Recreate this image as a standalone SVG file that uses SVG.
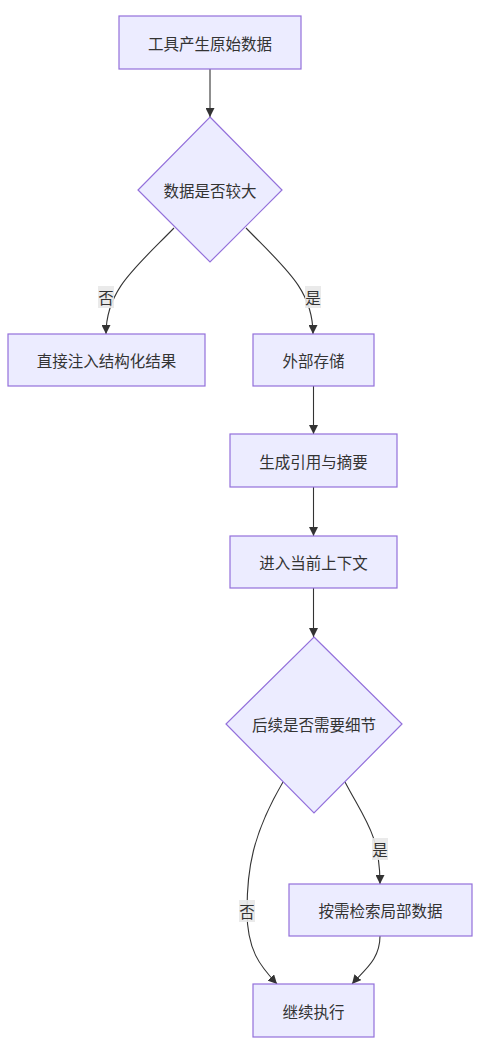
<svg xmlns="http://www.w3.org/2000/svg" width="479" height="1054" viewBox="0 0 479 1054">
<defs>
<style>
.node{fill:#ECECFF;stroke:#9370DB;stroke-width:1.2}
.t{font-family:"Noto Sans CJK SC","Liberation Sans",sans-serif;font-size:15.5px;fill:#333;text-anchor:middle;dominant-baseline:central}
.e{fill:none;stroke:#333;stroke-width:1.1}
.lb{fill:#e8e8e8;opacity:0.9}
</style>
<marker id="arr" viewBox="0 0 10 10" refX="10" refY="5" markerWidth="9" markerHeight="9" markerUnits="userSpaceOnUse" orient="auto">
<path d="M0,0 L10,5 L0,10 z" fill="#333"/>
</marker>
</defs>
<rect width="479" height="1054" fill="#fff"/>
<g id="edges">
<path class="e" d="M210,69 L210,117" marker-end="url(#arr)"/>
<path class="e" d="M174,228 C135,268 106,290 106,334" marker-end="url(#arr)"/>
<path class="e" d="M246,228 C285,268 313,290 313,334" marker-end="url(#arr)"/>
<path class="e" d="M313.5,386 L313.5,434" marker-end="url(#arr)"/>
<path class="e" d="M313.5,487 L313.5,536" marker-end="url(#arr)"/>
<path class="e" d="M313.5,588 L313.5,637" marker-end="url(#arr)"/>
<path class="e" d="M345,782 C365,820 380,835 380,884" marker-end="url(#arr)"/>
<path class="e" d="M283,782 C252,835 247,870 247,911 C247,950 260,966 277,984" marker-end="url(#arr)"/>
<path class="e" d="M380,936 C380,960 364,970 352,984" marker-end="url(#arr)"/>
</g>
<g id="labels">
<g id="l1"><rect class="lb" x="98" y="286" width="16" height="22"/><text class="t" x="106" y="297">否</text></g>
<g id="l2"><rect class="lb" x="305" y="286" width="16" height="22"/><text class="t" x="313" y="297">是</text></g>
<g id="l3"><rect class="lb" x="372" y="838" width="16" height="22"/><text class="t" x="380" y="849">是</text></g>
<g id="l4"><rect class="lb" x="239" y="900" width="16" height="22"/><text class="t" x="247" y="911">否</text></g>
</g>
<g id="n1"><rect class="node" x="119" y="16" width="182" height="53"/><text class="t" x="210" y="42.5">工具产生原始数据</text></g>
<g id="n2"><polygon class="node" points="210,117 282,190 210,262 138,190"/><text class="t" x="210" y="190">数据是否较大</text></g>
<g id="n3"><rect class="node" x="8" y="334" width="197" height="52"/><text class="t" x="106.5" y="360">直接注入结构化结果</text></g>
<g id="n4"><rect class="node" x="253" y="334" width="121" height="52"/><text class="t" x="313.5" y="360">外部存储</text></g>
<g id="n5"><rect class="node" x="230" y="434" width="167" height="53"/><text class="t" x="313.5" y="460.5">生成引用与摘要</text></g>
<g id="n6"><rect class="node" x="230" y="536" width="167" height="52"/><text class="t" x="313.5" y="562">进入当前上下文</text></g>
<g id="n7"><polygon class="node" points="314,637 402,724 314,813 226,724"/><text class="t" x="314" y="724">后续是否需要细节</text></g>
<g id="n8"><rect class="node" x="289" y="884" width="183" height="52"/><text class="t" x="380.5" y="910">按需检索局部数据</text></g>
<g id="n9"><rect class="node" x="253" y="984" width="121" height="53"/><text class="t" x="313.5" y="1010.5">继续执行</text></g>
</svg>
